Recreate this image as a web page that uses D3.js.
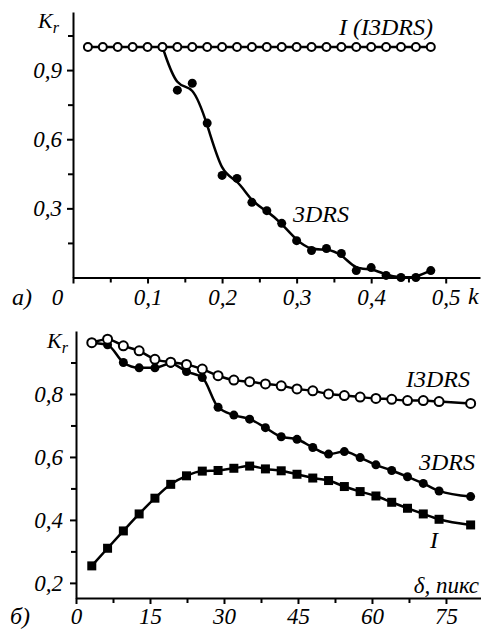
<!DOCTYPE html>
<html>
<head>
<meta charset="utf-8">
<script src="https://cdn.jsdelivr.net/npm/d3@7"></script>
<style>
  body { margin: 0; background: #fff; }
  svg { display: block; }
  text { font-family: "Liberation Serif", "Times New Roman", serif; font-style: italic; fill: #000; }
</style>
</head>
<body>
<div id="chart"></div>
<script>
// panel a) : K_r vs k
const topK = [0.02, 0.04, 0.06, 0.08, 0.10, 0.12, 0.14, 0.16, 0.18, 0.20, 0.22, 0.24,
              0.26, 0.28, 0.30, 0.32, 0.34, 0.36, 0.38, 0.40, 0.42, 0.44, 0.46, 0.48];
const topI3drs = [1, 1, 1, 1, 1, 1, 1, 1, 1, 1, 1, 1, 1, 1, 1, 1, 1, 1, 1, 1, 1, 1, 1, 1];
const top3drsK = [0.12, 0.14, 0.16, 0.18, 0.20, 0.22, 0.24, 0.26, 0.28, 0.30, 0.32, 0.34,
                  0.36, 0.38, 0.40, 0.42, 0.44, 0.46, 0.48];
const top3drs = [1.0, 0.813, 0.843, 0.67, 0.443, 0.43, 0.326, 0.29, 0.235, 0.16, 0.117, 0.126,
                 0.104, 0.03, 0.043, 0.009, 0.0, 0.0, 0.03];

// panel б) : K_r vs delta
const delta = [3.2, 6.4, 9.6, 12.8, 16, 19.2, 22.4, 25.6, 28.8, 32, 35.2, 38.4,
               41.6, 44.8, 48, 51.2, 54.4, 57.6, 60.8, 64, 67.2, 70.4, 73.6, 80];
const botI3drs = [0.963, 0.974, 0.953, 0.937, 0.910, 0.901, 0.894, 0.879, 0.858, 0.844, 0.839, 0.832,
                  0.826, 0.816, 0.81, 0.80, 0.795, 0.79, 0.786, 0.783, 0.779, 0.779, 0.776, 0.77];
const bot3drs = [0.963, 0.956, 0.90, 0.883, 0.883, 0.897, 0.871, 0.852, 0.758, 0.733, 0.72, 0.693,
                 0.664, 0.656, 0.63, 0.609, 0.617, 0.598, 0.575, 0.557, 0.537, 0.516, 0.492, 0.474];
const botI = [0.254, 0.31, 0.365, 0.419, 0.469, 0.513, 0.54, 0.555, 0.557, 0.564, 0.571, 0.562,
              0.556, 0.545, 0.533, 0.525, 0.506, 0.49, 0.476, 0.456, 0.437, 0.419, 0.402, 0.384];

const topXMajor = [0, 0.1, 0.2, 0.3, 0.4, 0.5];
const topXMinor = [0.05, 0.15, 0.25, 0.35, 0.45];
const topYMajor = [0.3, 0.6, 0.9];
const topYMinor = [0.15, 0.45, 0.75, 1.05];
const botXMajor = [0, 15, 30, 45, 60, 75];
const botXMinor = [7.5, 22.5, 37.5, 52.5, 67.5];
const botYMajor = [0.2, 0.4, 0.6, 0.8];
const botYMinor = [0.3, 0.5, 0.7, 0.9];

const W = 481, H = 629;
const fmt = d => String(d).replace(".", ",");

const svg = d3.select("#chart").append("svg")
    .attr("width", W)
    .attr("height", H);

function drawAxes(x, y, xMajor, xMinor, yMajor, yMinor, xLabelY, yLabelDx) {
  const x0 = x.range()[0], y0 = y.range()[0];

  // X axis
  const gx = svg.append("g").attr("transform", `translate(0,${y0})`);
  gx.call(d3.axisBottom(x).tickValues(xMajor).tickSize(6).tickSizeOuter(0).tickFormat(fmt));
  gx.append("g").call(d3.axisBottom(x).tickValues(xMinor).tickSize(5).tickFormat(""))
      .select(".domain").remove();
  gx.selectAll("text").attr("y", xLabelY).attr("dy", 0);

  // Y axis
  const gy = svg.append("g").attr("transform", `translate(${x0},0)`);
  gy.call(d3.axisLeft(y).tickValues(yMajor).tickSize(6).tickSizeOuter(0).tickFormat(fmt));
  gy.append("g").call(d3.axisLeft(y).tickValues(yMinor).tickSize(5).tickFormat(""))
      .select(".domain").remove();
  gy.selectAll("text").attr("x", yLabelDx);

  gx.attr("font-family", null).attr("font-size", null);
  gy.attr("font-family", null).attr("font-size", null);
  svg.selectAll(".domain, .tick line").attr("stroke", "#000").attr("stroke-width", 2);
  svg.selectAll(".tick text").attr("fill", "#000").style("font-size", "23px");
  return gx;
}

function label(txt, xp, yp, anchor, size) {
  return svg.append("text")
      .attr("x", xp)
      .attr("y", yp)
      .attr("text-anchor", anchor || "start")
      .style("font-size", (size || 24) + "px")
      .text(txt);
}

function krLabel(xp, yp) {
  const t = svg.append("text").attr("x", xp).attr("y", yp).style("font-size", "22px");
  t.append("tspan").text("K");
  t.append("tspan").attr("dy", 5).style("font-size", "16px").text("r");
}

// ---------- panel a) ----------
const xa = d3.scaleLinear().domain([0, 0.546]).range([73, 480]);
const ya = d3.scaleLinear().domain([0, 1.152]).range([277.5, 12]);

const gxa = drawAxes(xa, ya, topXMajor, topXMinor, topYMajor, topYMinor, 27, -11);
gxa.selectAll(".tick text").filter(d => d === 0).attr("dx", -16);

const curveA = d3.line()
    .x((d, i) => xa(top3drsK[i]))
    .y(d => ya(d))
    .curve(d3.curveBasis);
svg.append("path").datum(top3drs)
    .attr("fill", "none").attr("stroke", "#000").attr("stroke-width", 2.5)
    .attr("d", curveA);
svg.selectAll(".dotA").data(top3drs).enter().append("circle")
    .attr("cx", (d, i) => xa(top3drsK[i]))
    .attr("cy", d => ya(d))
    .attr("r", 4.5)
    .attr("fill", "#000");

svg.append("path").datum(topI3drs)
    .attr("fill", "none").attr("stroke", "#000").attr("stroke-width", 2.5)
    .attr("d", d3.line().x((d, i) => xa(topK[i])).y(d => ya(d)));
svg.selectAll(".openA").data(topI3drs).enter().append("circle")
    .attr("cx", (d, i) => xa(topK[i]))
    .attr("cy", d => ya(d))
    .attr("r", 4)
    .attr("fill", "#fff").attr("stroke", "#000").attr("stroke-width", 2);

krLabel(38, 28);
label("I (I3DRS)", 433, 35, "end");
label("3DRS", 293, 222);
label("а)", 12, 305);
label("k", 468, 304);

// ---------- panel б) ----------
const xb = d3.scaleLinear().domain([0, 82]).range([76, 480.5]);
const yb = d3.scaleLinear().domain([0.152, 1.0]).range([598, 331]);

drawAxes(xb, yb, botXMajor, botXMinor, botYMajor, botYMinor, 26, -13);

const lineB = d3.line()
    .x((d, i) => xb(delta[i]))
    .y(d => yb(d))
    .curve(d3.curveMonotoneX);

// I (squares)
svg.append("path").datum(botI)
    .attr("fill", "none").attr("stroke", "#000").attr("stroke-width", 2.5)
    .attr("d", lineB);
svg.selectAll(".sqB").data(botI).enter().append("rect")
    .attr("x", (d, i) => xb(delta[i]) - 4.5)
    .attr("y", d => yb(d) - 4.5)
    .attr("width", 9).attr("height", 9)
    .attr("fill", "#000");

// 3DRS (filled circles)
svg.append("path").datum(bot3drs)
    .attr("fill", "none").attr("stroke", "#000").attr("stroke-width", 2.5)
    .attr("d", lineB);
svg.selectAll(".dotB").data(bot3drs).enter().append("circle")
    .attr("cx", (d, i) => xb(delta[i]))
    .attr("cy", d => yb(d))
    .attr("r", 4.5)
    .attr("fill", "#000");

// I3DRS (open circles)
svg.append("path").datum(botI3drs)
    .attr("fill", "none").attr("stroke", "#000").attr("stroke-width", 2.5)
    .attr("d", lineB);
svg.selectAll(".openB").data(botI3drs).enter().append("circle")
    .attr("cx", (d, i) => xb(delta[i]))
    .attr("cy", d => yb(d))
    .attr("r", 4.5)
    .attr("fill", "#fff").attr("stroke", "#000").attr("stroke-width", 2);

krLabel(47, 348);
label("I3DRS", 470, 387, "end");
label("3DRS", 475, 470, "end");
label("I", 430, 548);
label("δ, пикс", 479, 593, "end", 23);
label("б)", 10, 624);
</script>
</body>
</html>
